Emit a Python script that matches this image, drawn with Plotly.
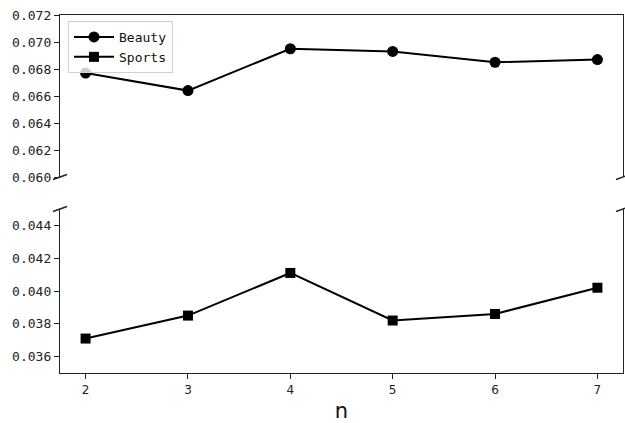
import plotly.graph_objects as go

n_values = [2, 3, 4, 5, 6, 7]
beauty = [0.0677, 0.0664, 0.0695, 0.0693, 0.0685, 0.0687]
sports = [0.0371, 0.0385, 0.0411, 0.0382, 0.0386, 0.0402]
top_ticks = [0.060, 0.062, 0.064, 0.066, 0.068, 0.070, 0.072]
bottom_ticks = [0.036, 0.038, 0.040, 0.042, 0.044]

W, H = 625, 423
ml, mr, mt, mb = 60, 2, 15, 50
ph = H - mt - mb
bot_dom = [0, (373 - 209) / ph]
top_dom = [(373 - 177) / ph, 1]

tick_font = dict(family="DejaVu Sans Mono", size=13, color="#222")

fig = go.Figure()
fig.add_trace(go.Scatter(
    x=n_values, y=beauty, name="Beauty", mode="lines+markers",
    line=dict(color="black", width=2),
    marker=dict(symbol="circle", size=11, color="black"),
    xaxis="x2", yaxis="y2"))
fig.add_trace(go.Scatter(
    x=n_values, y=sports, name="Sports", mode="lines+markers",
    line=dict(color="black", width=2),
    marker=dict(symbol="square", size=10, color="black"),
    xaxis="x", yaxis="y"))

axis_common = dict(showgrid=False, zeroline=False, linecolor="#222", linewidth=1.3,
                   tickcolor="#222", ticklen=5, tickwidth=1.2)

fig.update_layout(
    width=W, height=H,
    margin=dict(l=ml, r=mr, t=mt, b=mb),
    paper_bgcolor="white", plot_bgcolor="white",
    showlegend=True,
    legend=dict(x=(68 - ml) / (W - ml - mr), y=(373 - 21) / ph, xanchor="left", yanchor="top",
                bordercolor="#d0d0d0", borderwidth=1, bgcolor="rgba(255,255,255,0.8)",
                font=dict(family="DejaVu Sans Mono", size=13, color="#111"),
                itemwidth=40, tracegroupgap=0),
    xaxis=dict(domain=[0, 1], anchor="y", range=[1.75, 7.25], tickvals=n_values,
               ticks="outside", showline=True,
               tickfont=dict(family="DejaVu Sans", size=12, color="#222"),
               title=dict(text="n", font=dict(family="DejaVu Sans", size=21, color="#111"), standoff=8),
               **axis_common),
    xaxis2=dict(domain=[0, 1], anchor="y2", matches="x", side="top", showticklabels=False,
                ticks="", showline=True, **axis_common),
    yaxis=dict(domain=bot_dom, anchor="x", range=[0.035, 0.045], tickvals=bottom_ticks,
               tickformat=".3f", ticks="outside", showline=True, mirror=True,
               tickfont=tick_font, **axis_common),
    yaxis2=dict(domain=top_dom, anchor="x2", range=[0.060, 0.072], tickvals=top_ticks,
                tickformat=".3f", ticks="outside", showline=True, mirror=True,
                tickfont=tick_font, **axis_common),
)

# axis-break diagonal marks
for xa in (0, 1):
    for ya in (top_dom[0], bot_dom[1]):
        fig.add_shape(type="line", xref="paper", yref="paper",
                      xsizemode="pixel", xanchor=xa, x0=-7, x1=7,
                      ysizemode="pixel", yanchor=ya, y0=-2.5, y1=2.5,
                      line=dict(color="#222", width=1.5))

fig.write_html("out.html")
